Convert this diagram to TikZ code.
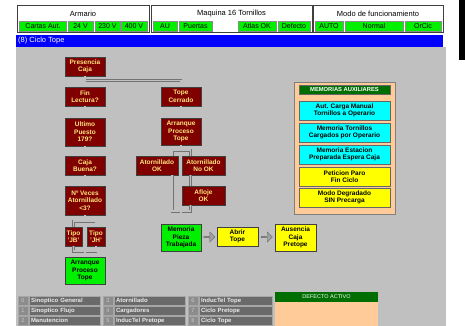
\documentclass[tikz,border=0pt]{standalone}
\usepackage{fontspec}
\setmainfont{Liberation Sans}
\usetikzlibrary{shapes.arrows, calc}

\definecolor{bggray}{HTML}{C0C0C0}
\definecolor{boxred}{HTML}{800000}
\definecolor{boxtext}{HTML}{FFE680}
\definecolor{litegreen}{HTML}{00F000}
\definecolor{darkgreen}{HTML}{006E00}
\definecolor{peach}{HTML}{FFCC99}
\definecolor{menugray}{HTML}{6A6A6A}
\definecolor{numgray}{HTML}{8C8C8C}
\definecolor{auxcyan}{HTML}{00FFFF}
\definecolor{auxyellow}{HTML}{FFFF00}
\definecolor{barblue}{HTML}{0000FF}

\begin{document}
\begin{tikzpicture}[x=1pt, y=-1pt,
    every node/.style={font=\fontsize{6.5}{7.5}\selectfont\bfseries, align=center, inner sep=0pt},
    redbox/.style={draw=black!75, fill=boxred, text=boxtext, minimum width=40pt, minimum height=19pt},
    greenbox/.style={draw=black!75, fill=litegreen, text=black, minimum width=40pt, minimum height=27pt},
    yellowbox/.style={draw=black!75, fill=auxyellow, text=black, minimum width=41pt, minimum height=19pt},
    auxbox/.style={draw=black!60, text=black, minimum width=91pt, minimum height=19pt},
    hdrcell/.style={draw=black!45, fill=litegreen, font=\fontsize{7}{8}\selectfont, minimum height=10pt},
    hdrtitle/.style={font=\fontsize{7.5}{8.5}\selectfont},
    menunum/.style={draw=black!35, fill=numgray, text=black!20, font=\fontsize{5.5}{6}\selectfont, minimum width=10pt, minimum height=9pt},
    menulabel/.style={draw=black!35, fill=menugray, text=black!8, font=\fontsize{6}{7}\selectfont\bfseries, text width=67pt, inner xsep=2pt, align=left, minimum height=9pt},
    pipe/.style={draw=black!55, line width=0.6pt, double=bggray, double distance=1.6pt},
    blockarrow/.style={single arrow, draw=black!60, fill=gray!75, minimum height=11pt, minimum width=10pt, single arrow head extend=1.5pt}]

    \useasboundingbox (0,0) rectangle (465,326);
    \fill[white] (0,0) rectangle (465,326);
    \fill[bggray] (16,47) rectangle (446,326);
    \fill[black] (459,0) rectangle (465,60);

    % Header.
    \draw[black!75, line width=1pt] (17,6) rectangle (149,33);
    \draw[black!75, line width=1pt] (151,6) rectangle (312,33);
    \draw[black!75, line width=1pt] (313,6) rectangle (443,33);
    \node[hdrtitle] (armario) at (83,13.5) {Armario};
    \node[hdrtitle] (maquina) at (231.5,13.5) {Maquina 16 Tornillos};
    \node[hdrtitle] (modo) at (378,13.5) {Modo de funcionamiento};

    \node[hdrcell, minimum width=47pt] (cartas) at (43,26) {Cartas Aut.};
    \node[hdrcell, minimum width=25pt] (v24) at (80.5,26) {24 V};
    \node[hdrcell, minimum width=25pt] (v230) at (107.5,26) {230 V};
    \node[hdrcell, minimum width=26pt] (v400) at (134,26) {400 V};
    \node[hdrcell, minimum width=24pt] (au) at (165,26) {AU};
    \node[hdrcell, minimum width=33pt] (puertas) at (195.5,26) {Puertas};
    \node[hdrcell, minimum width=38pt] (atlas) at (257,26) {Atlas OK};
    \node[hdrcell, minimum width=32pt] (defecto) at (294,26) {Defecto};
    \node[hdrcell, minimum width=28pt] (auto) at (329,26) {AUTO};
    \node[hdrcell, minimum width=58pt] (normal) at (374,26) {Normal};
    \node[hdrcell, minimum width=36pt] (orcic) at (423,26) {OrCic};

    \fill[barblue] (16,35) rectangle (443,47);
    \node[font=\fontsize{7.5}{8.5}\selectfont, text=white, anchor=west] (ciclo) at (18,41) {(8) Ciclo Tope};

    % Left column.
    \node[redbox] (presencia) at (85,66.5) {Presencia\\Caja};
    \node[redbox] (finlect) at (85,96.5) {Fin\\Lectura?};
    \node[redbox, minimum height=28pt] (ultimo) at (85,132) {Ultimo\\Puesto\\179?};
    \node[redbox] (cajabuena) at (85,165.5) {Caja\\Buena?};
    \node[redbox, minimum height=29pt] (nveces) at (85,200.5) {Nº Veces\\Atornillado\\<3?};
    \node[redbox, minimum width=17pt] (tipojb) at (73.5,236.5) {Tipo\\'JB'};
    \node[redbox, minimum width=18pt] (tipojh) at (96,236.5) {Tipo\\'JH'};
    \node[greenbox] (arrleft) at (85,270.5) {Arranque\\Proceso\\Tope};

    % Right column.
    \node[redbox] (topecerr) at (181,96.5) {Tope\\Cerrado};
    \node[redbox, minimum height=27pt] (arrtope) at (181,131.5) {Arranque\\Proceso\\Tope};
    \node[redbox, minimum width=42pt] (atorok) at (157,165.5) {Atornillado\\OK};
    \node[redbox, minimum width=43pt] (atornook) at (203.5,165.5) {Atornillado\\No OK};
    \node[redbox, minimum width=43pt] (afloje) at (203.5,195.5) {Afloje\\OK};
    \node[greenbox] (memoria) at (181,237.5) {Memoria\\Pieza\\Trabajada};
    \node[yellowbox] (abrir) at (237.5,236.5) {Abrir\\Tope};
    \node[yellowbox, minimum height=27pt] (ausencia) at (295.5,237.5) {Ausencia\\Caja\\Pretope};

    % Pipes between boxes.
    \draw[pipe] ($(presencia.south)+(0,4.5)$) -| (topecerr.north);
    \draw[pipe] (presencia.south) -- (finlect.north);
    \draw[pipe] (finlect.south) -- (ultimo.north);
    \draw[pipe] (ultimo.south) -- (cajabuena.north);
    \draw[pipe] (cajabuena.south) -- (nveces.north);
    \draw[pipe] (nveces.south) -- ++(0,6) -| (tipojb.north);
    \draw[pipe] (nveces.south) -- ++(0,6) -| (tipojh.north);
    \draw[pipe] (tipojb.south) -- ++(0,5) -| (arrleft.north);
    \draw[pipe] (tipojh.south) -- ++(0,5) -| (arrleft.north);

    \draw[pipe] (topecerr.south) -- (arrtope.north);
    \draw[pipe] (arrtope.south) -- ++(0,5) -| ([xshift=-6pt]atorok.north east);
    \draw[pipe] (arrtope.south) -- ++(0,5) -| ([xshift=8.5pt]atornook.north west);
    \draw[pipe] ([xshift=8.5pt]atornook.south west) -- ([xshift=8.5pt]afloje.north west);
    \draw[pipe] ([xshift=-6pt]atorok.south east) -- ++(0,36) -| (memoria.north);
    \draw[pipe] ([xshift=8.5pt]afloje.south west) -- ++(0,6) -| (memoria.north);

    % Block arrows.
    \node[blockarrow] (arrowA) at ($(memoria.east)!0.5!(abrir.west)$) {};
    \node[blockarrow] (arrowB) at ($(abrir.east)!0.5!(ausencia.west)$) {};

    % Memorias auxiliares.
    \draw[black!50, fill=peach] (294,82) rectangle (395,214);
    \node[fill=darkgreen, draw=black!60, text=white, font=\fontsize{5.8}{6.5}\selectfont\bfseries, minimum width=91pt, minimum height=9pt] (memtitle) at (344.5,89.5) {MEMORIAS AUXILIARES};
    \node[auxbox, fill=auxcyan] (aux1) at (344.5,110.5) {Aut. Carga Manual\\Tornillos a Operario};
    \node[auxbox, fill=auxcyan] (aux2) at (344.5,132.5) {Memoria Tornillos\\Cargados por Operario};
    \node[auxbox, fill=auxcyan] (aux3) at (344.5,154.5) {Memoria Estacion\\Preparada Espera Caja};
    \node[auxbox, fill=auxyellow] (aux4) at (344.5,176.5) {Peticion Paro\\Fin Ciclo};
    \node[auxbox, fill=auxyellow] (aux5) at (344.5,197.5) {Modo Degradado\\SIN Precarga};

    % Menu.
    \node[menunum] (n0) at (23,300.5) {0};
    \node[menunum] (n1) at (23,310.5) {1};
    \node[menunum] (n2) at (23,320.5) {2};
    \node[menulabel] (m0) at (64.5,300.5) {Sinoptico General};
    \node[menulabel] (m1) at (64.5,310.5) {Sinoptico Flujo};
    \node[menulabel] (m2) at (64.5,320.5) {Manutencion};
    \node[menunum] (n3) at (108,300.5) {3};
    \node[menunum] (n4) at (108,310.5) {4};
    \node[menunum] (n5) at (108,320.5) {5};
    \node[menulabel] (m3) at (149.5,300.5) {Atornillado};
    \node[menulabel] (m4) at (149.5,310.5) {Cargadores};
    \node[menulabel] (m5) at (149.5,320.5) {InducTel Pretope};
    \node[menunum] (n6) at (193,300.5) {6};
    \node[menunum] (n7) at (193,310.5) {7};
    \node[menunum] (n8) at (193,320.5) {8};
    \node[menulabel, text width=69pt] (m6) at (235.5,300.5) {InducTel Tope};
    \node[menulabel, text width=69pt] (m7) at (235.5,310.5) {Ciclo Pretope};
    \node[menulabel, text width=69pt] (m8) at (235.5,320.5) {Ciclo Tope};

    % Defecto activo.
    \fill[peach] (275,302) rectangle (378,326);
    \node[fill=darkgreen, text=white, font=\fontsize{5.5}{6}\selectfont, minimum width=103pt, minimum height=10pt] (defact) at (326.5,297) {DEFECTO ACTIVO};

\end{tikzpicture}
\end{document}
